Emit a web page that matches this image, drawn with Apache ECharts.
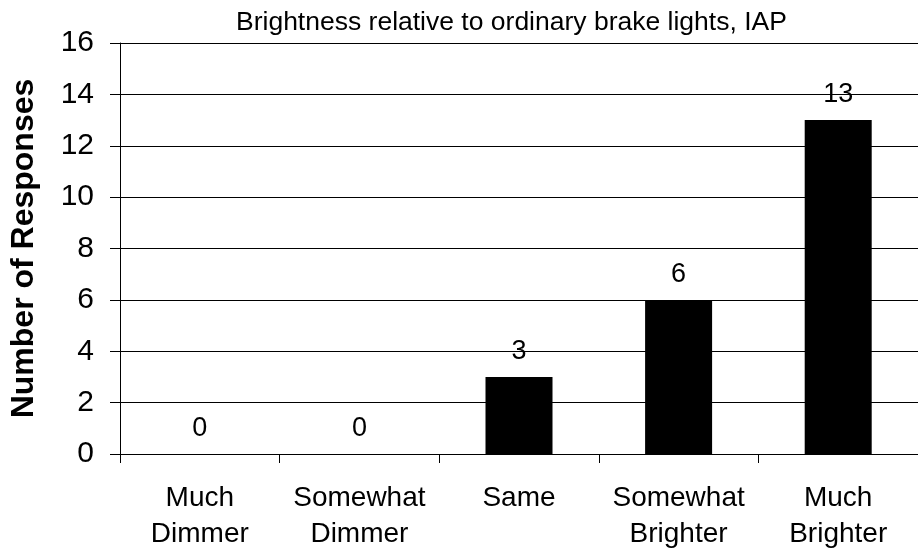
<!DOCTYPE html>
<html>
<head>
<meta charset="utf-8">
<title>Brightness relative to ordinary brake lights, IAP</title>
<script src="https://cdn.jsdelivr.net/npm/echarts@6/dist/echarts.min.js"></script>
<style>
  html, body { margin: 0; padding: 0; background: #fff; }
  #chart { width: 918px; height: 552px; }
</style>
</head>
<body>
<div id="chart"></div>
<script>
// Survey answers: brightness compared with ordinary brake lights
const categories = ['Much\nDimmer', 'Somewhat\nDimmer', 'Same', 'Somewhat\nBrighter', 'Much\nBrighter'];
const responses = [0, 0, 3, 6, 13];
const yTicks = [0, 2, 4, 6, 8, 10, 12, 14, 16];

const FONT = '"Liberation Sans", Arial, sans-serif';

const chart = echarts.init(document.getElementById('chart'), null, { renderer: 'canvas' });

chart.setOption({
  animation: false,
  backgroundColor: '#ffffff',
  title: {
    text: 'Brightness relative to ordinary brake lights, IAP',
    left: 231,
    top: 4,
    textStyle: { fontFamily: FONT, fontSize: 26.5, fontWeight: 'normal', color: '#000' }
  },
  grid: { left: 120, top: 43, right: -5, bottom: 98, containLabel: false },
  xAxis: {
    type: 'category',
    data: categories,
    boundaryGap: true,
    axisLine: { show: true, lineStyle: { color: '#000', width: 1 } },
    axisTick: { show: true, length: 9, lineStyle: { color: '#000' } },
    axisLabel: {
      interval: 0,
      margin: 26,
      fontFamily: FONT,
      fontSize: 28,
      lineHeight: 36,
      color: '#000',
      align: 'center'
    },
    splitLine: { show: false }
  },
  yAxis: {
    type: 'value',
    min: yTicks[0],
    max: yTicks[yTicks.length - 1],
    interval: 2,
    name: 'Number of Responses',
    nameLocation: 'middle',
    nameGap: 80,
    nameTextStyle: { fontFamily: FONT, fontSize: 32, fontWeight: 'bold', color: '#000' },
    axisLine: { show: true, lineStyle: { color: '#000', width: 1 } },
    axisTick: { show: true, length: 10, inside: false, lineStyle: { color: '#000' } },
    axisLabel: { margin: 26, fontFamily: FONT, fontSize: 30, color: '#000' },
    splitLine: { show: true, lineStyle: { color: '#000', width: 1 } }
  },
  series: [{
    type: 'bar',
    data: responses,
    barWidth: 67,
    itemStyle: { color: '#000' },
    label: {
      show: true,
      position: 'top',
      distance: 12,
      fontFamily: FONT,
      fontSize: 27,
      color: '#000'
    }
  }]
});
</script>
</body>
</html>
